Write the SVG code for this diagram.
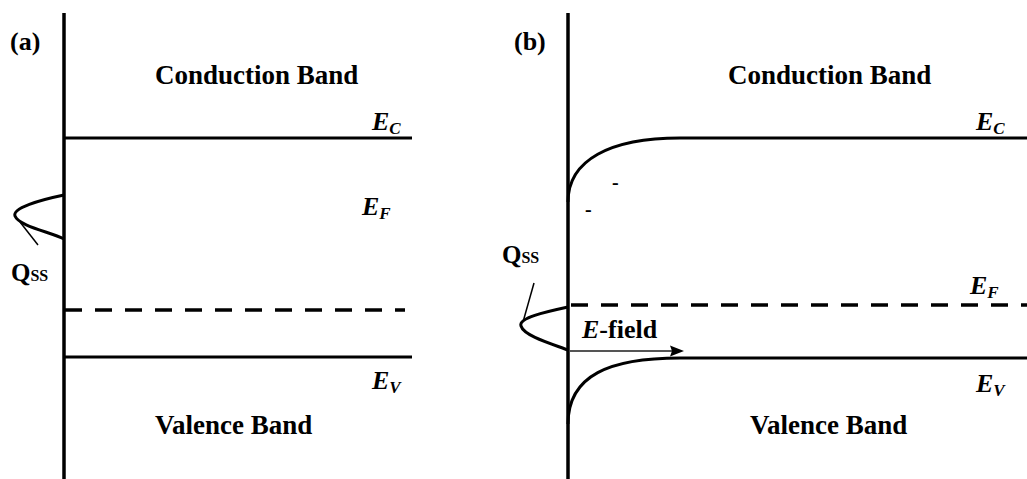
<svg xmlns="http://www.w3.org/2000/svg" width="1027" height="479" viewBox="0 0 1027 479">
<style>
.ln{stroke:#000;stroke-width:3;fill:none}
.ax{stroke:#000;stroke-width:3.5;fill:none}
.dash{stroke:#000;stroke-width:3.5;fill:none;stroke-dasharray:17 13}
.thin{stroke:#000;stroke-width:1.5;fill:none}
.band{font-family:"Liberation Serif",serif;font-weight:bold;font-size:27px;fill:#000}
.lab{font-family:"Liberation Serif",serif;font-weight:bold;font-size:26px;fill:#000}
.en{font-family:"Liberation Serif",serif;font-weight:bold;font-style:italic;font-size:26px;fill:#000}
.sub{font-size:17px}
.q{font-family:"Liberation Serif",serif;font-weight:bold;font-size:25px;fill:#000}
.ss{font-size:16px}
.m{font-family:"Liberation Serif",serif;font-weight:bold;font-size:20px;fill:#000}
</style>
<rect width="1027" height="479" fill="#fff"/>
<g id="panel-a">
  <text class="lab" x="10" y="50">(a)</text>
  <line class="ax" x1="64" y1="13" x2="64" y2="479"/>
  <line class="ln" x1="64" y1="138" x2="412" y2="138"/>
  <line class="dash" x1="65" y1="310" x2="405" y2="310"/>
  <line class="ln" x1="64" y1="357" x2="412" y2="357"/>
  <text class="band" x="155" y="84">Conduction Band</text>
  <text class="band" x="155" y="434">Valence Band</text>
  <text class="en" x="372" y="130">E<tspan class="sub" dy="4">C</tspan></text>
  <text class="en" x="362" y="215">E<tspan class="sub" dy="4">F</tspan></text>
  <text class="en" x="372" y="389">E<tspan class="sub" dy="4">V</tspan></text>
  <g id="qss-a">
    <path class="ln" d="M64,195 C40,200 12,208 15,216 C19,226 50,232 64,239"/>
    <line class="thin" x1="20" y1="222" x2="38" y2="245"/>
    <text class="q" x="11" y="281">Q<tspan class="ss">SS</tspan></text>
  </g>
</g>
<g id="panel-b">
  <text class="lab" x="514" y="50">(b)</text>
  <line class="ax" x1="568" y1="13" x2="568" y2="479"/>
  <path class="ln" d="M568,202 C568,160 610,138 680,138 L1027,138"/>
  <line class="dash" x1="571" y1="305" x2="1027" y2="305"/>
  <path class="ln" d="M568,424 C568,375 610,358 680,358 L1027,358"/>
  <text class="band" x="728" y="84">Conduction Band</text>
  <text class="band" x="750" y="434">Valence Band</text>
  <text class="en" x="976" y="130">E<tspan class="sub" dy="4">C</tspan></text>
  <text class="en" x="970" y="294">E<tspan class="sub" dy="4">F</tspan></text>
  <text class="en" x="976" y="392">E<tspan class="sub" dy="4">V</tspan></text>
  <text class="m" x="612" y="189">-</text>
  <text class="m" x="585" y="216">-</text>
  <g id="qss-b">
    <path class="ln" d="M568,307 C545,312 518,318 521,326 C524,336 552,344 568,350"/>
    <line class="thin" x1="523" y1="322" x2="534" y2="283"/>
    <text class="q" x="502" y="263">Q<tspan class="ss">SS</tspan></text>
  </g>
</g>
<g id="connectors">
  <line x1="570" y1="351" x2="674" y2="351" stroke="#555" stroke-width="2"/>
  <polygon points="684,351 670,345.5 672,351 670,356.5" fill="#000"/>
  <text x="582" y="338" font-family="Liberation Serif,serif" font-weight="bold" font-size="26px" fill="#000"><tspan font-style="italic">E</tspan>-field</text>
</g>
</svg>
